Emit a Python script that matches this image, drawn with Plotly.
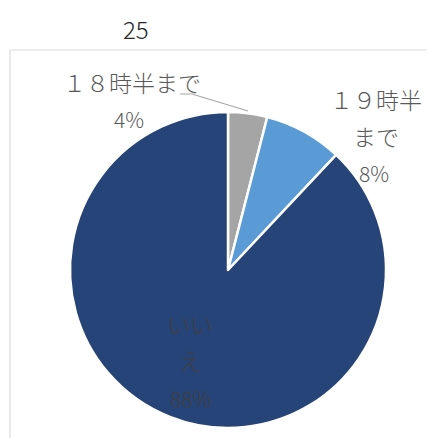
import plotly.graph_objects as go

labels = ["１８時半まで", "１９時半まで", "いいえ"]
values = [4, 8, 88]
colors = ["#A5A5A5", "#5B9BD5", "#264478"]
title_text = "25"

W, H = 435, 438
OFF = 8  # page body margin
def px(x):
    return (x - OFF) / W
def py(y):
    return 1 - (y - OFF) / H

fig = go.Figure(go.Pie(
    labels=labels, values=values, sort=False, direction="clockwise", rotation=0,
    marker=dict(colors=colors, line=dict(color="white", width=2.5)),
    textinfo="none", hoverinfo="label+percent", showlegend=False,
    domain=dict(x=[px(70), px(386)], y=[py(428), py(112)]),
))

font_jp = "Noto Sans CJK JP"
lab_col = "#595959"
ann = []
def add(x, y, t, size=23, color=lab_col):
    ann.append(dict(x=px(x), y=py(y), xref="paper", yref="paper", text=t,
                    showarrow=False, font=dict(family=font_jp, size=size, color=color, weight=300),
                    xanchor="center", yanchor="middle"))

pct = ["%d%%" % v for v in values]
add(132, 82, labels[0])
add(129, 119, pct[0], size=21)
add(376, 99, labels[1][:4])
add(376, 136, labels[1][4:])
add(374, 173, pct[1], size=21)
add(190, 324, labels[2][:2], color="#404040")
add(190, 360, labels[2][2:], color="#404040")
add(190, 398, pct[2], size=21, color="#404040")
ann.append(dict(x=px(136), y=py(28), xref="paper", yref="paper", text=title_text, showarrow=False,
                font=dict(family=font_jp, size=24, color="#262626", weight=300), xanchor="center", yanchor="middle"))

fig.update_layout(
    width=W, height=H, margin=dict(l=0, r=0, t=0, b=0),
    paper_bgcolor="white", plot_bgcolor="white",
    annotations=ann,
    shapes=[
        dict(type="rect", xref="paper", yref="paper", x0=px(10), y0=-0.05, x1=1.05, y1=py(50),
             line=dict(color="#D9D9D9", width=1.2), layer="below"),
        dict(type="path", xref="paper", yref="paper",
             path="M %f %f L %f %f L %f %f" % (px(180), py(94), px(192), py(94), px(248), py(111)),
             line=dict(color="#A6A6A6", width=1.2)),
    ],
)
fig.write_html("out.html")
